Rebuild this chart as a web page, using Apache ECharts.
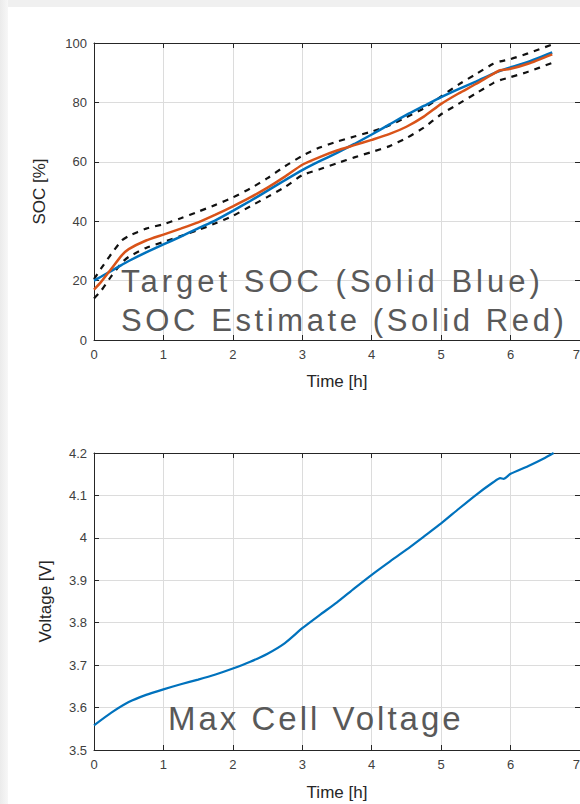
<!DOCTYPE html>
<html><head><meta charset="utf-8">
<script src="https://cdn.jsdelivr.net/npm/echarts@6/dist/echarts.min.js"></script>
<style>html,body{margin:0;padding:0;background:#fff}#c{width:580px;height:804px}</style>
</head><body><div id="c"></div>
<script>
// ---- data ----
const socTime   = [0, 0.1, 0.25, 0.4, 0.5, 0.75, 1, 1.25, 1.5, 1.75, 2, 2.25, 2.5, 2.75, 3, 3.25, 3.5, 3.75, 4, 4.25, 4.5, 4.75, 5, 5.25, 5.5, 5.75, 5.85, 6, 6.25, 6.6];
const targetSoc = [20, 21.3, 23.3, 25.3, 26.6, 29.5, 32.2, 34.8, 37.6, 40.3, 43.5, 46.8, 50.3, 53.8, 57.2, 60.2, 63.0, 66.0, 69.2, 72.5, 75.8, 78.8, 81.8, 84.5, 87.0, 89.7, 90.6, 91.8, 93.6, 96.8];
const estSoc    = [17, 19.5, 24, 28.5, 30.6, 33.5, 35.5, 37.5, 39.6, 42.2, 45, 48, 51.3, 55, 59, 61.6, 63.8, 65.6, 67.4, 69.3, 71.8, 75.2, 79.5, 83, 86.2, 89.6, 90.8, 91.3, 93, 96.2];
const upperSoc  = [20.5, 24, 29, 33.5, 35, 37.5, 39, 41, 43.2, 45.5, 48, 51, 54.5, 58.5, 62, 64.8, 66.8, 68.5, 70.2, 72.2, 75, 78, 82, 86, 89.5, 93, 93.8, 94.6, 96.5, 99.5];
const lowerSoc  = [14, 16.5, 21.5, 26, 28, 31, 33, 35, 37, 39.3, 41.8, 45, 48.2, 51.5, 55.5, 57.5, 59.5, 61.5, 63.3, 65.2, 68, 71.5, 76, 79.5, 83, 86.5, 87.5, 88.5, 90.3, 93.3];
const voltTime  = [0, 0.25, 0.5, 0.75, 1, 1.25, 1.5, 1.75, 2, 2.25, 2.5, 2.75, 3, 3.25, 3.5, 3.75, 4, 4.25, 4.5, 4.75, 5, 5.25, 5.5, 5.75, 5.85, 5.9, 6, 6.25, 6.5, 6.62];
const maxCellV  = [3.558, 3.588, 3.613, 3.630, 3.643, 3.655, 3.666, 3.678, 3.692, 3.708, 3.727, 3.752, 3.787, 3.818, 3.848, 3.881, 3.913, 3.943, 3.972, 4.003, 4.034, 4.068, 4.101, 4.131, 4.141, 4.139, 4.151, 4.169, 4.189, 4.2];
const socTicks  = {min: 0, max: 100, interval: 20};
const voltTicks = {min: 3.5, max: 4.2, interval: 0.1};
const timeTicks = {min: 0, max: 7, interval: 1};
const texts = {
  top1: 'Target SOC (Solid Blue)',
  top2: 'SOC Estimate (Solid Red)',
  bottom: 'Max Cell Voltage'
};

const FONT = "'Liberation Sans', Arial, Helvetica, sans-serif";
const AX = '#262626', GRIDC = '#dcdcdc';
const pairs = (xs, ys) => xs.map((x, i) => [x, ys[i]]);

function xAxes(gi, gap) {
  return [{
    gridIndex: gi, type: 'value', position: 'bottom', ...timeTicks,
    name: 'Time [h]', nameLocation: 'middle', nameGap: gap,
    nameTextStyle: {fontFamily: FONT, fontSize: 17, color: AX},
    axisLine: {show: true, onZero: false, lineStyle: {color: AX, width: 1}},
    axisTick: {show: true, inside: true, length: 5, lineStyle: {color: AX}},
    axisLabel: {fontFamily: FONT, fontSize: 13, color: '#404040', margin: 8, hideOverlap: false, alignMaxLabel: 'right'},
    splitLine: {show: true, lineStyle: {color: GRIDC, width: 1}}
  }, {
    gridIndex: gi, type: 'value', position: 'top', ...timeTicks,
    axisLine: {show: true, onZero: false, lineStyle: {color: AX, width: 1}},
    axisTick: {show: true, inside: true, length: 5, lineStyle: {color: AX}},
    axisLabel: {show: false}, splitLine: {show: false}
  }];
}
function yAxes(gi, ticks, name, gap, fmt) {
  return [{
    gridIndex: gi, type: 'value', position: 'left', ...ticks,
    name: name, nameLocation: 'middle', nameGap: gap,
    nameTextStyle: {fontFamily: FONT, fontSize: 17, color: AX},
    axisLine: {show: true, onZero: false, lineStyle: {color: AX, width: 1}},
    axisTick: {show: true, inside: true, length: 5, lineStyle: {color: AX}},
    axisLabel: {fontFamily: FONT, fontSize: 13, color: '#404040', margin: 7, formatter: fmt},
    splitLine: {show: true, lineStyle: {color: GRIDC, width: 1}}
  }, {
    gridIndex: gi, type: 'value', position: 'right', ...ticks,
    axisLine: {show: true, onZero: false, lineStyle: {color: AX, width: 1}},
    axisTick: {show: true, inside: true, length: 5, lineStyle: {color: AX}},
    axisLabel: {show: false}, splitLine: {show: false}
  }];
}

const lineBase = {type: 'line', showSymbol: false, symbol: 'none', smooth: 0.2, animation: false};

const option = {
  animation: false,
  backgroundColor: '#ffffff',
  grid: [
    {left: 94, top: 43, width: 486, height: 297, outerBoundsMode: 'none', containLabel: false},
    {left: 94, top: 453, width: 486, height: 297, outerBoundsMode: 'none', containLabel: false}
  ],
  xAxis: [...xAxes(0, 33), ...xAxes(1, 34)],
  yAxis: [...yAxes(0, socTicks, 'SOC [%]', 46, v => String(v)),
          ...yAxes(1, voltTicks, 'Voltage [V]', 40, v => String(+v.toFixed(1)))],
  series: [
    {...lineBase, name: 'Upper bound', xAxisIndex: 0, yAxisIndex: 0, data: pairs(socTime, upperSoc),
      lineStyle: {color: '#111111', width: 2.2, type: [6, 6]}},
    {...lineBase, name: 'Lower bound', xAxisIndex: 0, yAxisIndex: 0, data: pairs(socTime, lowerSoc),
      lineStyle: {color: '#111111', width: 2.2, type: [6, 6]}},
    {...lineBase, name: 'Target SOC', xAxisIndex: 0, yAxisIndex: 0, data: pairs(socTime, targetSoc),
      lineStyle: {color: '#0072BD', width: 2.5}},
    {...lineBase, name: 'SOC Estimate', xAxisIndex: 0, yAxisIndex: 0, data: pairs(socTime, estSoc),
      lineStyle: {color: '#D95319', width: 2.5}},
    {...lineBase, name: 'Max Cell Voltage', xAxisIndex: 2, yAxisIndex: 2, data: pairs(voltTime, maxCellV),
      lineStyle: {color: '#0072BD', width: 2.2}}
  ],
  graphic: [
    {type: 'rect', silent: true, z: -10, shape: {x: 0, y: 0, width: 580, height: 7}, style: {fill: '#f0f0f0'}},
    {type: 'rect', silent: true, z: -10, shape: {x: 0, y: 0, width: 8, height: 804},
      style: {fill: new echarts.graphic.LinearGradient(0, 0, 1, 0, [{offset: 0, color: '#ebebeb'}, {offset: 1, color: '#f7f7f7'}])}},
    {type: 'text', z: 100, x: 121, y: 281, style: {text: texts.top1, font: '31px ' + FONT, fill: '#595959', align: 'left', verticalAlign: 'middle', textAlign: 'left', textVerticalAlign: 'middle'}},
    {type: 'text', z: 100, x: 121, y: 320, style: {text: texts.top2, font: '31px ' + FONT, fill: '#595959', align: 'left', verticalAlign: 'middle', textAlign: 'left', textVerticalAlign: 'middle'}},
    {type: 'text', z: 100, x: 168, y: 718, style: {text: texts.bottom, font: '33px ' + FONT, fill: '#595959', align: 'left', verticalAlign: 'middle', textAlign: 'left', textVerticalAlign: 'middle'}}
  ]
};

const dom = document.getElementById('c');
const chart = echarts.init(dom, null, {renderer: 'svg', width: 580, height: 804});
chart.setOption(option);
const spacing = {};
spacing[texts.top1] = 4; spacing[texts.top2] = 3.6; spacing[texts.bottom] = 3;
dom.querySelectorAll('text').forEach(t => {
  const s = spacing[t.textContent];
  if (s != null) t.setAttribute('letter-spacing', s);
});
</script>
</body></html>
